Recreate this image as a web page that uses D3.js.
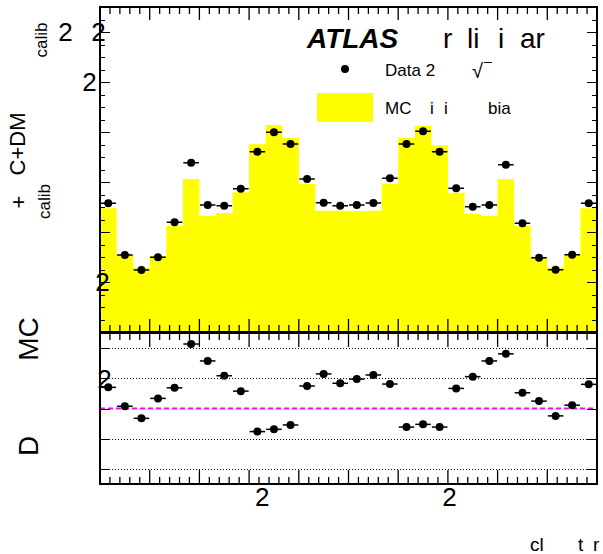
<!DOCTYPE html>
<html><head><meta charset="utf-8">
<script src="https://cdn.jsdelivr.net/npm/d3@7"></script>
<style>
body{margin:0;background:#fff}
svg{display:block}
text{font-family:"Liberation Sans",Arial,Helvetica,sans-serif;fill:#000}
.ax line{stroke:#000;stroke-width:1;shape-rendering:crispEdges}
.ax path{display:none}
</style>
</head><body>
<svg id="c" width="603" height="554" viewBox="0 0 603 554"></svg>
<script>
// ---------------- data ----------------
const binCenters = [-1.45,-1.35,-1.25,-1.15,-1.05,-0.95,-0.85,-0.75,-0.65,-0.55,-0.45,-0.35,-0.25,-0.15,-0.05,
                     0.05, 0.15, 0.25, 0.35, 0.45, 0.55, 0.65, 0.75, 0.85, 0.95, 1.05, 1.15, 1.25, 1.35, 1.45];
const binWidth = 0.1;
const dataValues = [1.515,1.308,1.248,1.299,1.439,1.677,1.508,1.505,1.573,1.721,1.799,1.752,1.612,1.517,1.505,
                    1.508,1.516,1.615,1.752,1.803,1.721,1.575,1.501,1.508,1.669,1.435,1.297,1.249,1.309,1.515];
const mcValues   = [1.495,1.308,1.257,1.304,1.424,1.612,1.465,1.476,1.559,1.751,1.828,1.777,1.593,1.485,1.485,
                    1.484,1.485,1.593,1.776,1.825,1.747,1.557,1.473,1.465,1.612,1.424,1.297,1.257,1.311,1.495];
const ratioValues = [1.0140,1.0015,0.9935,1.0067,1.0137,1.0427,1.0315,1.0217,1.0115,0.9847,0.9862,0.9891,1.0149,1.0229,1.0167,
                     1.0195,1.0222,1.0162,0.9877,0.9895,0.9877,1.0133,1.0211,1.0315,1.0362,1.0104,1.0049,0.9951,1.0022,1.0160];
const xDomain = [-1.5, 1.5];
const xMajorTicks = [-1.5,-1.2,-0.9,-0.6,-0.3,0,0.3,0.6,0.9,1.2,1.5];
const xMinorTicks = [-1.44,-1.38,-1.32,-1.26,-1.14,-1.08,-1.02,-0.96,-0.84,-0.78,-0.72,-0.66,-0.54,-0.48,-0.42,-0.36,
                     -0.24,-0.18,-0.12,-0.06,0.06,0.12,0.18,0.24,0.36,0.42,0.48,0.54,0.66,0.72,0.78,0.84,
                     0.96,1.02,1.08,1.14,1.26,1.32,1.38,1.44];
const xTickLabelValues = [-0.52, 0.61];
const xTickLabelTexts = ["2", "2"];
const yDomain = [1.0, 2.3];
const yMajorTicks = [1.0,1.2,1.4,1.6,1.8,2.0,2.2];
const yMinorStep = 0.05;
const yTickLabelValues = [1.2, 2.0, 2.2, 2.2];
const yTickLabelTexts = ["2", "2", "2", "2"];
const rDomain = [0.95, 1.05];
const rTicks = [0.96, 0.98, 1.00, 1.02, 1.04];
const rGrid = [0.96, 0.98, 1.02, 1.04];
const rRefLine = 1.0;
const rTickLabelValues = [1.02];
const rTickLabelTexts = ["2"];

// ---------------- layout ----------------
const L = 100, R = 597;
const mainTop = 7, mainBot = 332;
const ratTop = 333, ratBot = 484;
const yLabelCX = [102.5, 89.5, 98.5, 65.5];
const tickFont = 26;

const svg = d3.select("#c");
const xs = d3.scaleLinear().domain(xDomain).range([L, R]);
const y = d3.scaleLinear().domain(yDomain).range([mainBot, mainTop]);
const yr = d3.scaleLinear().domain(rDomain).range([ratBot, ratTop]);

const yMinor = d3.range(Math.round((yDomain[1]-yDomain[0])/yMinorStep)+1).map(i => yDomain[0] + i*yMinorStep);

const defs = svg.append("defs");
defs.append("clipPath").attr("id","mainclip").append("rect")
  .attr("x",L).attr("y",mainTop).attr("width",R-L).attr("height",mainBot-mainTop);
defs.append("clipPath").attr("id","ratclip").append("rect")
  .attr("x",L).attr("y",ratTop).attr("width",R-L).attr("height",ratBot-ratTop);

function ticksY(g, scale, xPos, dir, vals, len) {
  const ax = (dir === "right" ? d3.axisRight(scale) : d3.axisLeft(scale)).tickValues(vals).tickSize(len).tickFormat("").tickSizeOuter(0);
  g.append("g").attr("class","ax").attr("transform",`translate(${xPos},0)`).call(ax);
}

// ---------- main pad ----------
const gMain = svg.append("g");
let p = d3.path();
p.moveTo(xs(binCenters[0]-binWidth/2), y(yDomain[0]));
binCenters.forEach((c,i) => {
  p.lineTo(xs(c-binWidth/2), y(mcValues[i]));
  p.lineTo(xs(c+binWidth/2), y(mcValues[i]));
});
p.lineTo(xs(binCenters[binCenters.length-1]+binWidth/2), y(yDomain[0]));
p.closePath();
gMain.append("path").attr("d", p.toString()).attr("fill","#ffff00").attr("clip-path","url(#mainclip)");

const gData = gMain.append("g").attr("clip-path","url(#mainclip)");
binCenters.forEach((c,i) => {
  gData.append("line").attr("x1",xs(c-binWidth/2)+0.5).attr("x2",xs(c+binWidth/2)-0.5)
    .attr("y1",y(dataValues[i])).attr("y2",y(dataValues[i])).attr("stroke","#000").attr("stroke-width",1.5);
  gData.append("circle").attr("cx",xs(c)).attr("cy",y(dataValues[i])).attr("r",4).attr("fill","#000");
});

ticksY(gMain, y, L, "right", yMinor, 5);
ticksY(gMain, y, L, "right", yMajorTicks, 10);
ticksY(gMain, y, R, "left", yMinor, 5);
ticksY(gMain, y, R, "left", yMajorTicks, 10);
gMain.append("rect").attr("x",L).attr("y",mainTop).attr("width",R-L).attr("height",mainBot-mainTop)
  .attr("fill","none").attr("stroke","#000").attr("stroke-width",2);

yTickLabelValues.forEach((v,i) => {
  gMain.append("text").attr("x",yLabelCX[i]).attr("y",y(v)+tickFont*0.36)
    .attr("text-anchor","middle").attr("font-size",tickFont).text(yTickLabelTexts[i]);
});

// ---------- ratio pad ----------
const gRat = svg.append("g");
rGrid.forEach(v => {
  gRat.append("line").attr("x1",L).attr("x2",R).attr("y1",Math.round(yr(v))+0.5).attr("y2",Math.round(yr(v))+0.5)
    .attr("stroke","#000").attr("stroke-width",1).attr("stroke-dasharray","1,2");
});
gRat.append("line").attr("x1",L).attr("x2",R).attr("y1",yr(rRefLine)).attr("y2",yr(rRefLine))
  .attr("stroke","#ff00ff").attr("stroke-width",2).attr("stroke-dasharray","5,3");
const gRData = gRat.append("g").attr("clip-path","url(#ratclip)");
binCenters.forEach((c,i) => {
  gRData.append("line").attr("x1",xs(c-binWidth/2)+0.5).attr("x2",xs(c+binWidth/2)-0.5)
    .attr("y1",yr(ratioValues[i])).attr("y2",yr(ratioValues[i])).attr("stroke","#000").attr("stroke-width",1.5);
  gRData.append("circle").attr("cx",xs(c)).attr("cy",yr(ratioValues[i])).attr("r",4).attr("fill","#000");
});
ticksY(gRat, yr, L, "right", rTicks, 10);
ticksY(gRat, yr, R, "left", rTicks, 10);
gRat.append("rect").attr("x",L).attr("y",ratTop).attr("width",R-L).attr("height",ratBot-ratTop)
  .attr("fill","none").attr("stroke","#000").attr("stroke-width",2);
rTickLabelValues.forEach((v,i) => {
  gRat.append("text").attr("x",104.5).attr("y",yr(v)+tickFont*0.36)
    .attr("text-anchor","middle").attr("font-size",tickFont).text(rTickLabelTexts[i]);
});

// x ticks: drawn last, pointing inward on every horizontal frame edge
const xTickSpecs = [
  {yPos: mainBot, sign: -1, maj: 13}, {yPos: mainTop, sign: 1, maj: 13},
  {yPos: ratBot,  sign: -1, maj: 14}, {yPos: ratTop,  sign: 1, maj: 14}
];
const gXT = svg.append("g").attr("id","xticks");
xTickSpecs.forEach(s => {
  xMinorTicks.forEach(v => {
    gXT.append("line").attr("x1", xs(v)).attr("x2", xs(v))
      .attr("y1", s.yPos).attr("y2", s.yPos + s.sign * 7)
      .attr("stroke", "#000").attr("stroke-width", 1.3);
  });
  xMajorTicks.forEach(v => {
    gXT.append("line").attr("x1", xs(v)).attr("x2", xs(v))
      .attr("y1", s.yPos).attr("y2", s.yPos + s.sign * s.maj)
      .attr("stroke", "#000").attr("stroke-width", 1.3);
  });
});

// x tick labels
xTickLabelValues.forEach((v,i) => {
  svg.append("text").attr("x",xs(v)).attr("y",497+tickFont*0.36)
    .attr("text-anchor","middle").attr("font-size",tickFont).text(xTickLabelTexts[i]);
});

// x title pieces (glyphs as in reference)
const xTitlePieces = [["cl",530],["t",578],["r",593]];
xTitlePieces.forEach(([t,xx]) => svg.append("text").attr("x",xx).attr("y",551).attr("font-size",19).text(t));

// y titles (rotated)
function rot(txt, bx, cy, fs) {
  svg.append("text").attr("transform",`translate(${bx},${cy}) rotate(-90)`)
    .attr("text-anchor","middle").attr("font-size",fs).text(txt);
}
rot("C+DM", 25, 144, 22);
rot("+", 26, 202, 22);
rot("calib", 50, 201.5, 17);
rot("calib", 47, 40, 17);
rot("MC", 38, 339, 28);
rot("D", 38, 446, 28);

// ATLAS label
svg.append("text").attr("x",307).attr("y",48).attr("font-size",28)
  .attr("font-weight","bold").attr("font-style","italic").text("ATLAS");
const prelimPieces = [["r",443],["li",467],["i",498],["ar",520]];
prelimPieces.forEach(([t,xx]) => svg.append("text").attr("x",xx).attr("y",48).attr("font-size",28).text(t));

// legend
svg.append("circle").attr("cx",345).attr("cy",69).attr("r",4).attr("fill","#000");
svg.append("text").attr("x",385).attr("y",76).attr("font-size",17).text("Data 2");
svg.append("text").attr("x",472).attr("y",78).attr("font-size",20).text("\u221A");
svg.append("line").attr("x1",484).attr("x2",492).attr("y1",62.5).attr("y2",62.5).attr("stroke","#000").attr("stroke-width",1);
svg.append("rect").attr("x",317).attr("y",93).attr("width",56).attr("height",29).attr("fill","#ffff00");
const mcLegPieces = [["MC",385],["i",430],["i",444],["bia",488]];
mcLegPieces.forEach(([t,xx]) => svg.append("text").attr("x",xx).attr("y",114).attr("font-size",17).text(t));
</script>
</body></html>
